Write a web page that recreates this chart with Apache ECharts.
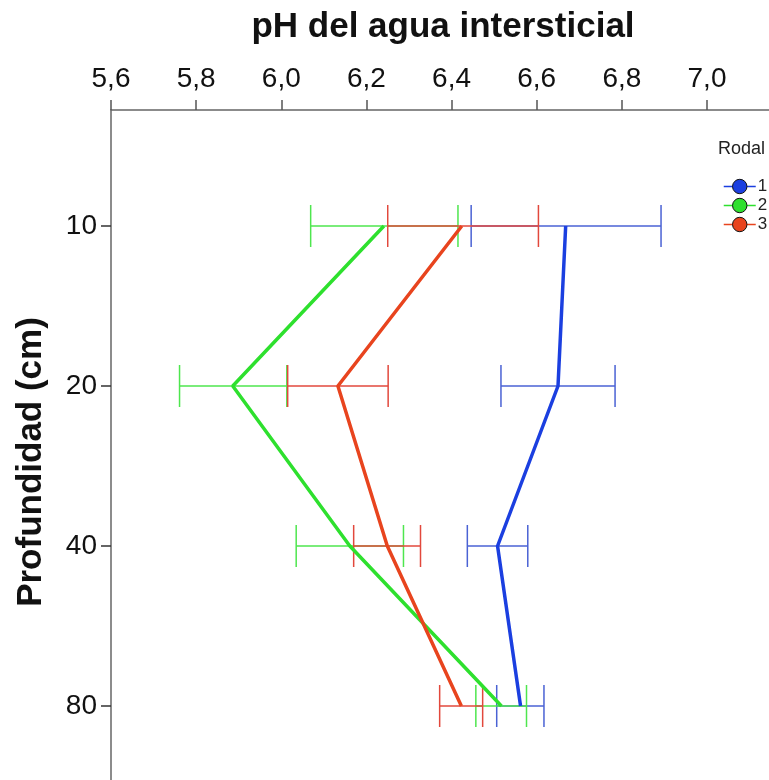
<!DOCTYPE html>
<html>
<head>
<meta charset="utf-8">
<script src="https://cdn.jsdelivr.net/npm/echarts@6/dist/echarts.min.js"></script>
<style>
  html, body { margin: 0; padding: 0; background: #fff; }
  #chart { width: 769px; height: 780px; }
</style>
</head>
<body>
<div id="chart"></div>
<script>
// profundidades (eje vertical) y ticks del eje de pH
var depthLabels = ['10', '20', '40', '80'];
var phTicks = [5.6, 5.8, 6.0, 6.2, 6.4, 6.6, 6.8, 7.0];
var rodalNames = ['1', '2', '3'];

// medias e intervalos
var rodal1Mean = [6.668, 6.650, 6.508, 6.562];
var rodal1Low  = [6.446, 6.516, 6.437, 6.506];
var rodal1High = [6.892, 6.784, 6.579, 6.617];

var rodal2Mean = [6.241, 5.886, 6.161, 6.517];
var rodal2Low  = [6.069, 5.761, 6.035, 6.457];
var rodal2High = [6.415, 6.013, 6.287, 6.576];

var rodal3Mean = [6.424, 6.133, 6.249, 6.423];
var rodal3Low  = [6.250, 6.015, 6.170, 6.372];
var rodal3High = [6.604, 6.251, 6.327, 6.473];

var lineColors = ['#1b3fe0', '#2ee02e', '#e8441e'];
var barColors = ['#4a62d4', '#4ee64e', '#e2483c'];

var FONT = 'Liberation Sans, Arial, sans-serif';

function errorBar(color) {
    return function (params, api) {
        var y = api.value(2);
        var lo = api.coord([api.value(0), y]);
        var hi = api.coord([api.value(1), y]);
        var h = 21;
        var style = { stroke: color, lineWidth: 1.5 };
        return {
            type: 'group',
            children: [
                { type: 'line', shape: { x1: lo[0], y1: lo[1], x2: hi[0], y2: hi[1] }, style: style },
                { type: 'line', shape: { x1: lo[0], y1: lo[1] - h, x2: lo[0], y2: lo[1] + h }, style: style },
                { type: 'line', shape: { x1: hi[0], y1: hi[1] - h, x2: hi[0], y2: hi[1] + h }, style: style }
            ]
        };
    };
}

function barData(low, high) {
    return low.map(function (l, i) { return [l, high[i], i]; });
}
function meanData(mean) {
    return mean.map(function (m, i) { return [m, i]; });
}

var means = [rodal1Mean, rodal2Mean, rodal3Mean];
var lows = [rodal1Low, rodal2Low, rodal3Low];
var highs = [rodal1High, rodal2High, rodal3High];

var series = [];
// barras de error primero
for (var k = 0; k < 3; k++) {
    series.push({
        name: 'err' + rodalNames[k],
        type: 'custom',
        renderItem: errorBar(barColors[k]),
        encode: { x: [0, 1], y: 2 },
        data: barData(lows[k], highs[k]),
        z: 2
    });
}
// lineas de medias encima
for (var k = 0; k < 3; k++) {
    series.push({
        name: rodalNames[k],
        type: 'line',
        data: meanData(means[k]),
        symbol: 'circle',
        symbolSize: 14,
        showSymbol: false,
        color: lineColors[k],
        itemStyle: { color: lineColors[k], borderColor: '#111', borderWidth: 1 },
        lineStyle: { width: 3.5, color: lineColors[k] },
        z: 3
    });
}

var chart = echarts.init(document.getElementById('chart'));
chart.setOption({
    backgroundColor: '#fff',
    animation: false,
    textStyle: { fontFamily: FONT },
    grid: { left: 111, right: 0, top: 110, bottom: 0 },
    xAxis: {
        type: 'value',
        position: 'top',
        min: 5.6,
        max: 7.1456,
        axisLine: { show: true, onZero: false, lineStyle: { color: '#666', width: 1.5 } },
        axisTick: { show: true, length: 10, customValues: phTicks, lineStyle: { color: '#555', width: 1.5 } },
        axisLabel: {
            customValues: phTicks,
            margin: 17,
            fontSize: 28,
            color: '#111',
            fontFamily: FONT,
            formatter: function (v) { return v.toFixed(1).replace('.', ','); }
        },
        splitLine: { show: false }
    },
    yAxis: {
        type: 'value',
        inverse: true,
        min: -0.725,
        max: 3.4625,
        axisLine: { show: true, onZero: false, lineStyle: { color: '#666', width: 1.5 } },
        axisTick: { show: true, length: 10, customValues: [0, 1, 2, 3], lineStyle: { color: '#333', width: 1.5 } },
        axisLabel: {
            customValues: [0, 1, 2, 3],
            margin: 14,
            fontSize: 28,
            color: '#111',
            fontFamily: FONT,
            formatter: function (v) { return depthLabels[Math.round(v)]; }
        },
        splitLine: { show: false }
    },
    legend: {
        data: rodalNames,
        orient: 'vertical',
        left: 718,
        top: 173,
        itemWidth: 32,
        itemHeight: 18,
        itemGap: 2,
        lineStyle: { width: 1.5 },
        itemStyle: { borderColor: '#111', borderWidth: 1 },
        textStyle: { fontSize: 17, color: '#222', fontFamily: FONT, padding: [0, 0, 0, -3] }
    },
    graphic: [
        {
            type: 'text',
            x: 443,
            y: 27,
            style: {
                text: 'pH del agua intersticial',
                font: 'bold 35px ' + FONT,
                fill: '#111',
                textAlign: 'center',
                textVerticalAlign: 'middle'
            }
        },
        {
            type: 'text',
            x: 31,
            y: 462,
            rotation: Math.PI / 2,
            style: {
                text: 'Profundidad (cm)',
                font: 'bold 35px ' + FONT,
                fill: '#111',
                textAlign: 'center',
                textVerticalAlign: 'middle'
            }
        },
        {
            type: 'text',
            x: 718,
            y: 149,
            style: {
                text: 'Rodal',
                font: '18px ' + FONT,
                fill: '#222',
                textAlign: 'left',
                textVerticalAlign: 'middle'
            }
        }
    ],
    series: series
});
</script>
</body>
</html>
